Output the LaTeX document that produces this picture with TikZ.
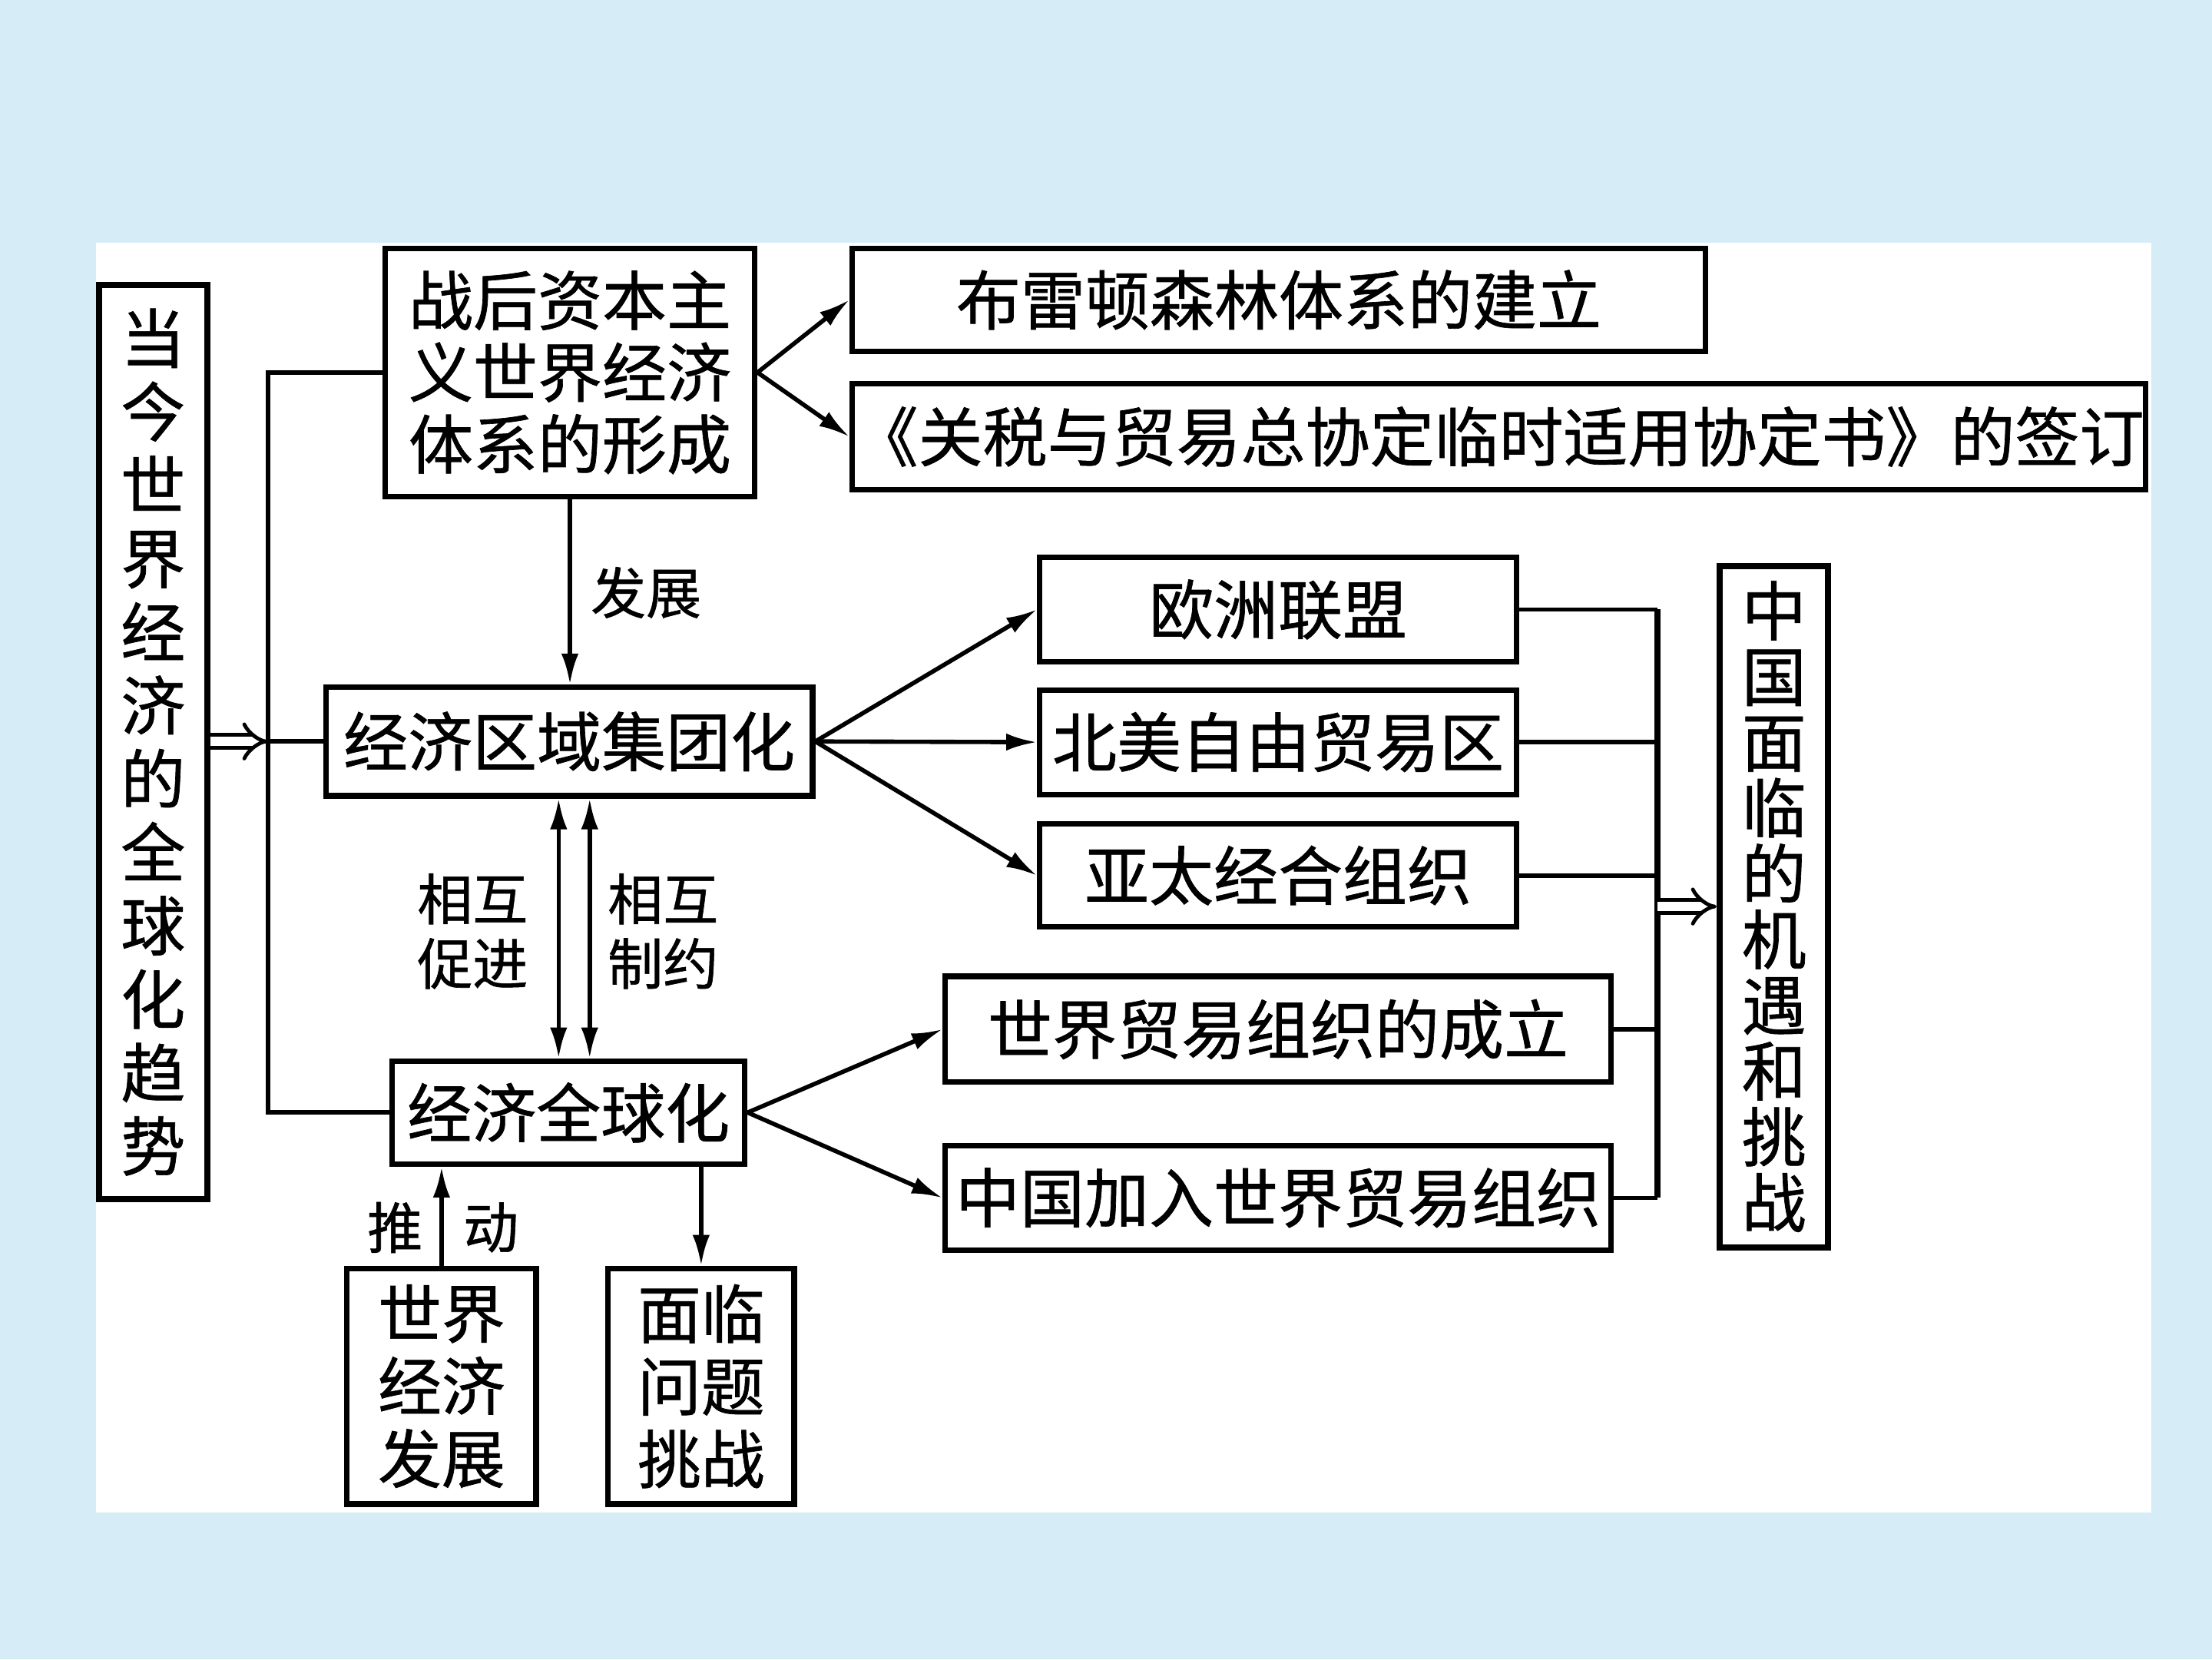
\documentclass[tikz,border=0pt]{standalone}
\usepackage{fontspec}
\newfontfamily\cjk[FakeBold=0.8]{Noto Sans CJK SC}
\usetikzlibrary{arrows.meta,fit}
\definecolor{bgblue}{RGB}{214,236,247}
\begin{document}
\begin{tikzpicture}[x=0.4592pt,y=-0.4592pt,
  box/.style={draw, line width=1.8pt, fill=white, inner sep=0pt},
  txt/.style={font=\cjk\fontsize{21}{23.4}\selectfont, align=center, inner sep=0pt},
  lab/.style={font=\cjk\fontsize{18}{21}\selectfont, align=center, inner sep=0pt},
  conn/.style={line width=1.4pt},
  tip/.tip={Latex[length=10pt,width=5.6pt]},
  arr/.style={conn, -tip},
  dbl/.style={line width=1.2pt, double=white, double distance=3pt, -{Implies[length=6pt,width=12pt]}},
]
% background
\fill[bgblue] (0,0) rectangle (1568,1176);
\fill[white] (68,172) rectangle (1525,1072);
\useasboundingbox (0,0) rectangle (1568,1176);

% boxes
\node[box, line width=2pt, fit={(70,202) (147,850)}] (A) {};
\node[box, fit={(273,176) (535,352)}] (B) {};
\node[box, fit={(604,176) (1209,249)}] (C) {};
\node[box, fit={(604,272) (1521,347)}] (D) {};
\node[box, fit={(231,487) (576,564)}] (E) {};
\node[box, fit={(278,752) (528,825)}] (F) {};
\node[box, fit={(737,395) (1075,469)}] (G) {};
\node[box, fit={(737,489) (1075,563)}] (H) {};
\node[box, fit={(737,584) (1075,657)}] (I) {};
\node[box, fit={(670,692) (1142,767)}] (J) {};
\node[box, fit={(670,812) (1142,886)}] (K) {};
\node[box, line width=2pt, fit={(1219,401) (1296,884)}] (L) {};
\node[box, fit={(246,899) (380,1066)}] (M) {};
\node[box, fit={(431,899) (563,1066)}] (N) {};

% box texts
\node[txt, font=\cjk\fontsize{21}{23.9}\selectfont] (At) at (A.center)
  {当\\今\\世\\界\\经\\济\\的\\全\\球\\化\\趋\\势};
\node[txt] (Bt) at (B.center) {战后资本主\\义世界经济\\体系的形成};
\node[txt] (Ct) at (C.center) {布雷顿森林体系的建立};
\node[txt] (Dt) at (D.center) {《关税与贸易总协定临时适用协定书》的签订};
\node[txt] (Et) at (E.center) {经济区域集团化};
\node[txt] (Ft) at (F.center) {经济全球化};
\node[txt] (Gt) at (G.center) {欧洲联盟};
\node[txt] (Ht) at (H.center) {北美自由贸易区};
\node[txt] (It) at (I.center) {亚太经合组织};
\node[txt] (Jt) at (J.center) {世界贸易组织的成立};
\node[txt] (Kt) at (K.center) {中国加入世界贸易组织};
\node[txt, font=\cjk\fontsize{21}{21.4}\selectfont] (Lt) at (L.center)
  {中\\国\\面\\临\\的\\机\\遇\\和\\挑\\战};
\node[txt, font=\cjk\fontsize{20.7}{23.6}\selectfont] (Mt) at (M.center) {世界\\经济\\发展};
\node[txt, font=\cjk\fontsize{20.7}{23.6}\selectfont] (Nt) at (N.center) {面临\\问题\\挑战};

% labels
\node[lab] (l1) at (458,420) {发展};
\node[lab] (l2) at (335,660) {相互\\促进};
\node[lab] (l3) at (470,660) {相互\\制约};
\node[lab] (l4) at (280,870) {推};
\node[lab] (l5) at (348,870) {动};

% helper coordinates
\coordinate (lt) at (190,264);
\coordinate (lb) at (190,788.5);
\coordinate (rt) at (1175,432);
\coordinate (rb) at (1175,849);
\coordinate (x1) at (396,0);
\coordinate (x2) at (418,0);

% left bus
\draw[conn] (B.west) -- (lt) -- (lb) -- (F.west);
\draw[conn] (E.west) -- (E.west -| lt);
\draw[dbl] (A.east |- E.west) -- (E.west -| lt);

% top arrows
\draw[arr] (B.east) -- (C.west);
\draw[arr] (B.east) -- (D.west);
\draw[arr] (B.south) -- (B.south |- E.north);

% mutual arrows
\draw[conn, tip-tip] (E.south -| x1) -- (F.north -| x1);
\draw[conn, tip-tip] (E.south -| x2) -- (F.north -| x2);

% fan out from E and F
\draw[arr] (E.east) -- (G.west);
\draw[arr] (E.east) -- (H.west);
\draw[arr] (E.east) -- (I.west);
\draw[arr] (F.east) -- (J.west);
\draw[arr] (F.east) -- (K.west);

% bottom
\draw[arr] (M.north) -- (M.north |- F.south);
\draw[arr] (F.south -| N.north) -- (N.north);

% right bus
\draw[conn] (G.east) -- (rt);
\draw[conn] (K.east) -- (rb);
\draw[line width=2pt] (rt) -- (rb);
\draw[conn] (H.east) -- (H.east -| rt);
\draw[conn] (I.east) -- (I.east -| rt);
\draw[conn] (J.east) -- (J.east -| rt);
\draw[dbl] (rt |- L.west) -- (L.west);
\end{tikzpicture}
\end{document}
